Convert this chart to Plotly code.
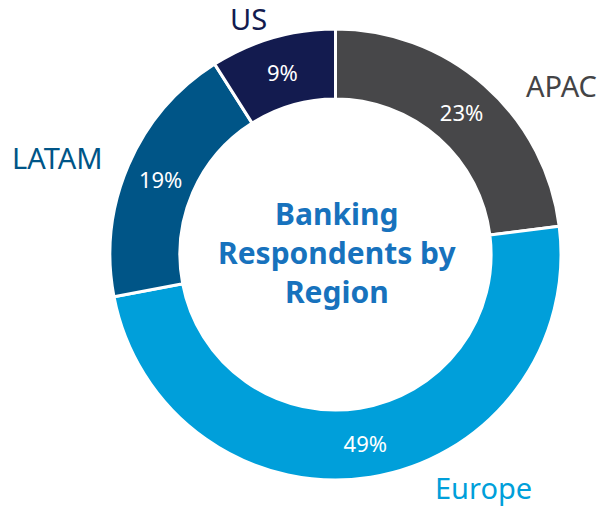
import plotly.graph_objects as go

regions = ["APAC", "Europe", "LATAM", "US"]
shares = [23, 49, 19, 9]
slice_colors = ["#474749", "#009FDA", "#005587", "#131B4F"]
title_text = "Banking<br>Respondents by<br>Region"

W, H = 606, 508
FONT = "Noto Sans"

fig = go.Figure(go.Pie(
    labels=regions,
    values=shares,
    hole=0.69,
    sort=False,
    direction="clockwise",
    rotation=0,
    marker=dict(colors=slice_colors, line=dict(color="white", width=3)),
    texttemplate="%{value}%",
    textposition="inside",
    insidetextorientation="horizontal",
    textfont=dict(family=FONT, size=22, color="white"),
    showlegend=False,
    hoverinfo="label+percent",
    domain=dict(x=[110 / W, 561 / W], y=[28 / H, 479 / H]),
))

# outside category labels (layout placement, pixel coords of label centres)
label_pos = {"APAC": (561, 85), "Europe": (483, 487), "LATAM": (57, 157), "US": (248, 18)}
label_colors = {"APAC": "#444446", "Europe": "#009FDA", "LATAM": "#005587", "US": "#131B4F"}
for name in regions:
    px, py = label_pos[name]
    fig.add_annotation(
        x=px / W, y=1 - py / H, xref="paper", yref="paper",
        text=name, showarrow=False, xanchor="center", yanchor="middle",
        font=dict(family=FONT, size=29, color=label_colors[name]),
    )

fig.add_annotation(
    x=337 / W, y=1 - 252 / H, xref="paper", yref="paper",
    text="<b>" + title_text + "</b>", showarrow=False,
    xanchor="center", yanchor="middle",
    font=dict(family=FONT, size=30, color="#1772BD"),
)

fig.update_layout(
    width=W, height=H,
    margin=dict(l=0, r=0, t=0, b=0),
    paper_bgcolor="white", plot_bgcolor="white",
)

fig.write_html("out.html", config={"displayModeBar": False},
               post_script="document.body.style.margin='0';document.body.style.overflow='hidden';")
